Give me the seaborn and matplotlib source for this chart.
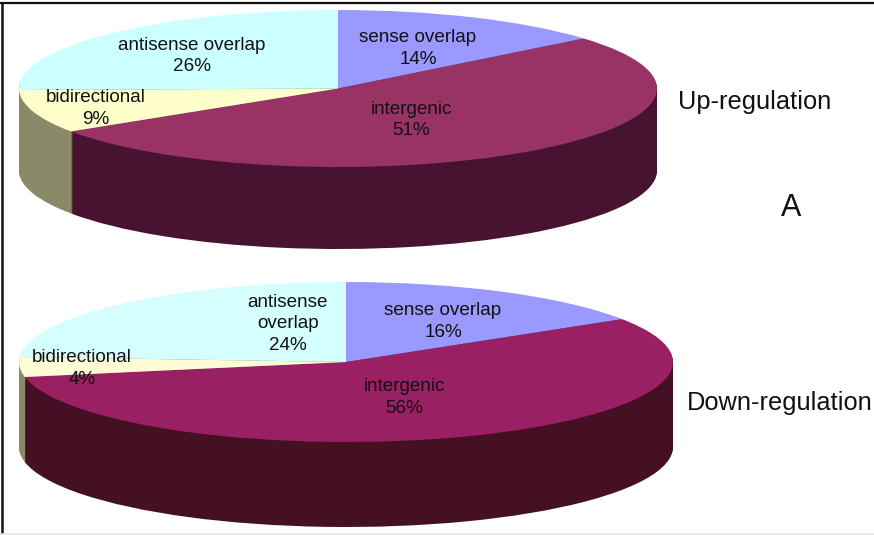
import matplotlib
matplotlib.use("Agg")
import matplotlib.pyplot as plt
from matplotlib.lines import Line2D
import seaborn as sns

# ---- data ----
categories = ["sense overlap", "intergenic", "bidirectional", "antisense overlap"]
up_values = [14.0, 51.8, 8.9, 25.3]
down_values = [16.0, 56.0, 4.0, 24.0]
up_percent = [14, 51, 9, 26]
down_percent = [16, 56, 4, 24]
up_top_colors = ["#9999FF", "#993366", "#FFFFCC", "#CCFFFF"]
up_wall_colors = ["#4D4D80", "#481331", "#8A8A68", "#668080"]
down_top_colors = ["#9999FF", "#992062", "#FFFBD6", "#D5FFFF"]
down_wall_colors = ["#4D4D80", "#461024", "#8A8A68", "#6B8080"]

sns.set_theme(style="white")
plt.rcParams["font.family"] = ["Liberation Sans", "DejaVu Sans"]

W, H = 874, 535
fig = plt.figure(figsize=(W / 100, H / 100), dpi=100, facecolor="white")


def draw_pie(values, top_colors, wall_colors, cx, cy, rx, ry, depth):
    """Stack of ax.pie calls, stretched by a non-equal axes, forming a 3-D disc."""
    d = depth / ry
    ax = fig.add_axes([(cx - rx) / W, 1 - (cy + ry + depth) / H,
                       2 * rx / W, (2 * ry + depth) / H])
    kw = dict(startangle=90, counterclock=False, radius=1,
              wedgeprops=dict(linewidth=0))
    for k in range(int(depth), 0, -1):
        ax.pie(values, colors=wall_colors, center=(0, -k / ry), **kw)
    ax.pie(values, colors=top_colors, center=(0, 0), **kw)
    ax.set_aspect("auto")
    ax.set_xlim(-1, 1)
    ax.set_ylim(-1 - d, 1)
    ax.axis("off")


draw_pie(up_values, up_top_colors, up_wall_colors, 338, 88.5, 319, 78.5, 82)
draw_pie(down_values, down_top_colors, down_wall_colors, 346, 362, 327, 80, 85)


def label(x, y, s, size=13.6):
    fig.text(x / W, 1 - y / H, s, ha="center", va="center", fontsize=size,
             color="#111111", linespacing=1.32)


def pie_label(x, y, name, value):
    label(x, y, f"{name}\n{value}%")


pie_label(192, 56, "antisense overlap", up_percent[3])
pie_label(418, 48.5, categories[0], up_percent[0])
pie_label(96, 108.5, categories[2], up_percent[2])
pie_label(411, 120, categories[1], up_percent[1])

pie_label(288, 324, "antisense\noverlap", down_percent[3])
pie_label(443, 321.5, categories[0], down_percent[0])
pie_label(82, 368.5, categories[2], down_percent[2])
pie_label(404, 397.5, categories[1], down_percent[1])

label(755, 102, "Up-regulation", 18.3)
label(780, 403, "Down-regulation", 18.3)
label(791, 208, "A", 22)

# frame lines at the edges of the picture
fig.add_artist(Line2D([0, 1], [1 - 3 / H, 1 - 3 / H], color="#111111", lw=1.6,
                      transform=fig.transFigure))
fig.add_artist(Line2D([2 / W, 2 / W], [2 / H, 1 - 3 / H], color="#111111", lw=1.8,
                      transform=fig.transFigure))
fig.add_artist(Line2D([0, 1], [1 / H, 1 / H], color="#E4E4E4", lw=1.2,
                      transform=fig.transFigure))

fig.savefig("out.png", dpi=100, facecolor="white")
